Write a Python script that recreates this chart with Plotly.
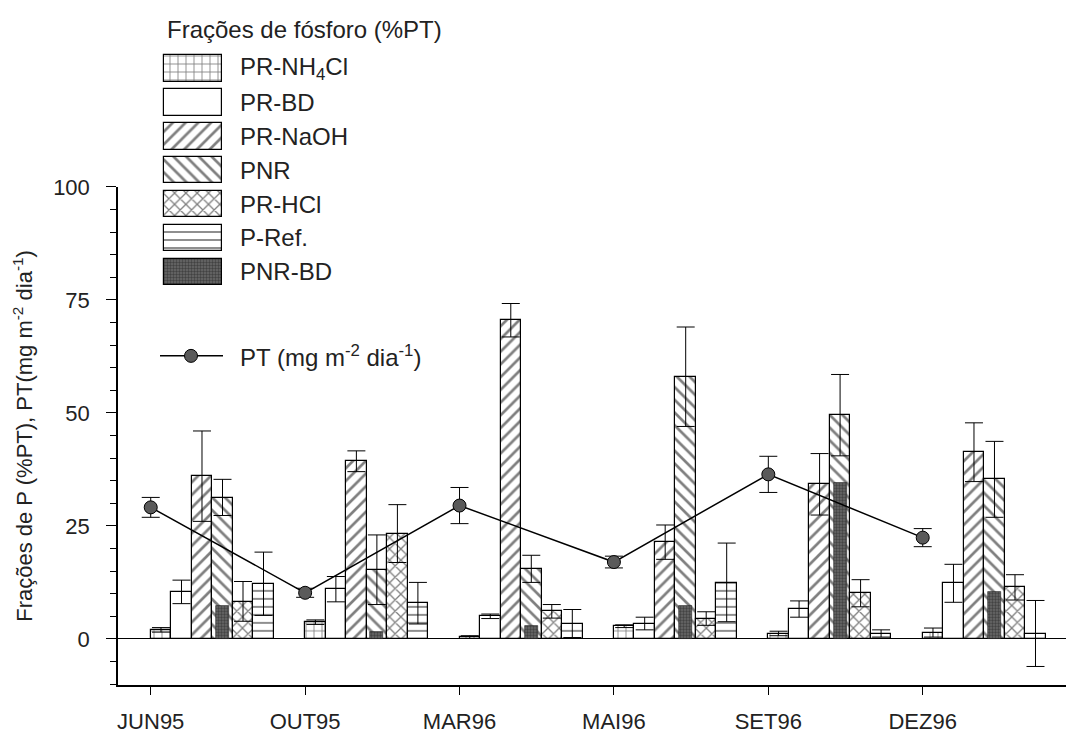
import plotly.graph_objects as go

# ---------------- data ----------------
dates = ["JUN95", "OUT95", "MAR96", "MAI96", "SET96", "DEZ96"]

series_names = ["PR-NH<sub>4</sub>Cl", "PR-BD", "PR-NaOH", "PNR", "PR-HCl", "P-Ref."]
pr_nh4cl = [2.0, 3.7, 0.4, 2.8, 1.2, 1.4]
pr_nh4cl_err = [0.5, 0.5, 0.3, 0.3, 0.5, 1.0]
pr_bd = [10.4, 11.0, 5.0, 3.4, 6.6, 12.3]
pr_bd_err = [2.6, 2.8, 0.5, 1.4, 1.8, 4.2]
pr_naoh = [36.0, 39.3, 70.5, 21.4, 34.2, 41.3]
pr_naoh_err = [10.0, 2.3, 3.7, 3.8, 6.8, 6.5]
pnr = [31.3, 15.3, 15.5, 58.0, 49.5, 35.3]
pnr_err = [4.0, 7.7, 3.0, 11.0, 9.0, 8.4]
pr_hcl = [8.3, 23.3, 6.1, 4.5, 10.1, 11.4]
pr_hcl_err = [4.4, 6.4, 1.5, 1.5, 3.0, 2.8]
p_ref = [12.2, 7.9, 3.4, 12.5, 1.2, 1.2]
p_ref_err = [7.0, 4.6, 3.1, 8.7, 0.8, 7.3]
pnr_bd = [7.4, 1.5, 2.8, 7.2, 34.6, 10.5]
pt = [29.1, 10.2, 29.5, 17.0, 36.4, 22.4]
pt_err = [2.2, 1.0, 4.0, 1.3, 4.0, 2.0]

yticks = [0, 25, 50, 75, 100]

# ---------------- styles ----------------
FONT = "Liberation Sans, Arial, sans-serif"
W, H = 1069, 735
ML, MR, MT, MB = 118, 3, 0, 50
PLOT_TOP_PX = 178
BW = 0.1328          # bar width (x units)
BDW = 0.085          # PNR-BD narrower bar

def pat(shape, size=9, sol=0.18, bg="white", fg="black"):
    return dict(shape=shape, size=size, solidity=sol, fgcolor=fg, bgcolor=bg)

styles = [
    dict(color="white", pattern=pat("+", 8, 0.2)),
    dict(color="white", pattern=pat("", 8)),
    dict(color="white", pattern=pat("/", 9, 0.3)),
    dict(color="white", pattern=pat("\\", 9, 0.3)),
    dict(color="white", pattern=pat("x", 8, 0.3)),
    dict(color="white", pattern=pat("-", 8, 0.22)),
]
bd_style = dict(color="#555555", pattern=pat(".", 3, 0.5, bg="#6a6a6a", fg="#1a1a1a"))

values = [pr_nh4cl, pr_bd, pr_naoh, pnr, pr_hcl, p_ref]
errors = [pr_nh4cl_err, pr_bd_err, pr_naoh_err, pnr_err, pr_hcl_err, p_ref_err]

fig = go.Figure()
idx = list(range(len(dates)))

for k, (vals, errs) in enumerate(zip(values, errors)):
    st = styles[k]
    fig.add_trace(go.Bar(
        x=[i + (k + 0.5) * BW for i in idx], y=vals, width=BW,
        marker=dict(color=st["color"], pattern=st["pattern"],
                    line=dict(color="black", width=1.2)),
        error_y=dict(type="data", array=errs, color="black", thickness=1, width=9),
        showlegend=False, name=series_names[k]))

fig.add_trace(go.Bar(
    x=[i + 3.5 * BW for i in idx], y=pnr_bd, width=BDW,
    marker=dict(color=bd_style["color"], pattern=bd_style["pattern"],
                line=dict(color="#222", width=0.6)),
    showlegend=False, name="PNR-BD"))

fig.add_trace(go.Scatter(
    x=idx, y=pt, mode="lines+markers",
    line=dict(color="black", width=1.5),
    marker=dict(size=13, color="#5a5a5a", line=dict(color="black", width=1)),
    error_y=dict(type="data", array=pt_err, color="black", thickness=1, width=9),
    showlegend=False, name="PT"))

# ---------------- custom legend (pixel-space overlay axes) ----------------
leg_labels = series_names + ["PNR-BD"]
leg_styles = styles + [bd_style]
leg_x0, leg_w, leg_h = 164, 58, 27
leg_cy0, leg_step = 57.5, 34.5
for k, (lab, st) in enumerate(zip(leg_labels, leg_styles)):
    cy = leg_cy0 + leg_step * k
    fig.add_trace(go.Bar(
        x=[leg_x0 + leg_w / 2], y=[leg_h], base=[cy - leg_h / 2], width=[leg_w],
        marker=dict(color=st["color"], pattern=st["pattern"],
                    line=dict(color="black", width=1.2)),
        xaxis="x2", yaxis="y2", showlegend=False, hoverinfo="skip"))
    fig.add_annotation(x=238, y=cy, xref="x2", yref="y2", text=lab, showarrow=False,
                       xanchor="left", yanchor="middle",
                       font=dict(family=FONT, size=24, color="#222"))

fig.add_annotation(x=165, y=18, xref="x2", yref="y2", text="Frações de fósforo (%PT)",
                   showarrow=False, xanchor="left", yanchor="middle",
                   font=dict(family=FONT, size=24, color="#222"))

pt_leg_y = 350
fig.add_trace(go.Scatter(x=[160, 223], y=[pt_leg_y, pt_leg_y], mode="lines",
                         line=dict(color="black", width=1.5),
                         xaxis="x2", yaxis="y2", showlegend=False, hoverinfo="skip"))
fig.add_trace(go.Scatter(x=[191], y=[pt_leg_y], mode="markers",
                         marker=dict(size=13, color="#5a5a5a", line=dict(color="black", width=1)),
                         xaxis="x2", yaxis="y2", showlegend=False, hoverinfo="skip"))
fig.add_annotation(x=238, y=pt_leg_y, xref="x2", yref="y2",
                   text="PT (mg m<sup>-2</sup> dia<sup>-1</sup>)", showarrow=False,
                   xanchor="left", yanchor="middle",
                   font=dict(family=FONT, size=24, color="#222"))

# ---------------- layout ----------------
paper_h = H - MT - MB
ydom_top = (H - MB - PLOT_TOP_PX) / paper_h

fig.update_layout(
    width=W, height=H,
    margin=dict(l=ML, r=MR, t=MT, b=MB, pad=0),
    paper_bgcolor="white", plot_bgcolor="rgba(0,0,0,0)",
    barmode="overlay", bargap=0,
    font=dict(family=FONT, size=22, color="#222"),
    xaxis=dict(
        domain=[0, 1], range=[-0.212, 5.928],
        tickmode="array", tickvals=idx, ticktext=dates,
        ticks="outside", ticklen=8, tickcolor="black", tickwidth=1,
        showline=True, linecolor="black", linewidth=1.5,
        showgrid=False, zeroline=False, ticklabelstandoff=8,
        tickfont=dict(family=FONT, size=22, color="#222")),
    yaxis=dict(
        domain=[0, ydom_top], range=[-10.2, 100],
        tickmode="array", tickvals=yticks,
        ticks="outside", ticklen=10, tickcolor="black", tickwidth=1,
        minor=dict(tick0=0, dtick=5, ticks="outside", ticklen=6, tickcolor="black"),
        showline=True, linecolor="black", linewidth=1.5,
        showgrid=False, zeroline=True, zerolinecolor="black", zerolinewidth=1.2,
        ticklabelstandoff=12,
        tickfont=dict(family=FONT, size=22, color="#222"),
        title=dict(text="Frações de P (%PT), PT(mg m<sup>-2</sup> dia<sup>-1</sup>)",
                   font=dict(family=FONT, size=22, color="#222"), standoff=14)),
    xaxis2=dict(domain=[0, 1], range=[ML, W - MR], anchor="y2", visible=False,
                fixedrange=True),
    yaxis2=dict(domain=[0, 1], range=[H - MB, MT], anchor="x2", visible=False,
                fixedrange=True),
)

fig.write_html("out.html", config={"displayModeBar": False})
